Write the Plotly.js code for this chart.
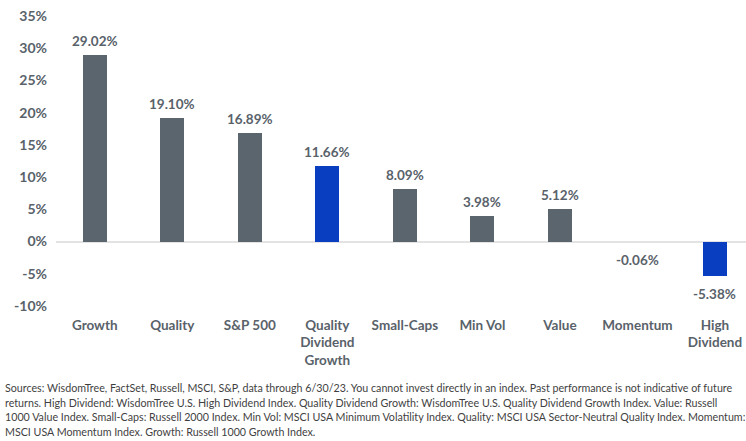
<!DOCTYPE html>
<html>
<head>
<meta charset="utf-8">
<script src="https://cdn.plot.ly/plotly-3.0.1.min.js"></script>
<style>
  html, body { margin: 0; padding: 0; background: #ffffff; }
  #chart { width: 746px; height: 441px; }
</style>
</head>
<body>
<div id="chart"></div>
<script>
// Total return by factor / index, through 6/30/23 (percent)
const categories = ["Growth", "Quality", "S&P 500", "Quality<br>Dividend<br>Growth", "Small-Caps", "Min Vol", "Value", "Momentum", "High<br>Dividend"];
const returns = [29.02, 19.10, 16.89, 11.66, 8.09, 3.98, 5.12, -0.06, -5.38];
const highlighted = [false, false, false, true, false, false, false, false, true];
const yTickValues = [-10, -5, 0, 5, 10, 15, 20, 25, 30, 35];
const yTickLabels = ["-10%", "-5%", "0%", "5%", "10%", "15%", "20%", "25%", "30%", "35%"];
const footnoteLines = [
  "Sources: WisdomTree, FactSet, Russell, MSCI, S&P, data through 6/30/23. You cannot invest directly in an index. Past performance is not indicative of future",
  "returns. High Dividend: WisdomTree U.S. High Dividend Index. Quality Dividend Growth: WisdomTree U.S. Quality Dividend Growth Index. Value: Russell",
  "1000 Value Index. Small-Caps: Russell 2000 Index. Min Vol: MSCI USA Minimum Volatility Index. Quality: MSCI USA Sector-Neutral Quality Index. Momentum:",
  "MSCI USA Momentum Index. Growth: Russell 1000 Growth Index."
];

const GRAY = "#5b656e";
const BLUE = "#0a3ec0";
const TEXT = "#59626a";
const FONT = "Lato, 'Open Sans', sans-serif";

// plot area geometry (pixels)
const PLOT_TOP = 16;
const PLOT_H = 290;
const PLOT_L = 56;
const PLOT_W = 690;

const barTrace = {
  type: "bar",
  x: categories,
  y: returns,
  width: 0.31,
  marker: { color: highlighted.map(h => h ? BLUE : GRAY), line: { width: 0 } },
  hoverinfo: "x+y",
  showlegend: false
};

const valueLabels = categories.map((c, i) => ({
  x: c,
  y: returns[i],
  xref: "x",
  yref: "y",
  text: returns[i].toFixed(2) + "%",
  showarrow: false,
  yanchor: returns[i] >= 0 ? "bottom" : "top",
  yshift: returns[i] >= 0 ? 4 : -8,
  font: { family: FONT, size: 13.5, color: TEXT, weight: 700 }
}));

// footnote lines, one annotation per line for even spacing
const footnotes = footnoteLines.map((line, i) => {
  const py = 388 + i * 14.4;
  return {
    xref: "paper",
    yref: "paper",
    x: (3 - PLOT_L) / PLOT_W,
    y: (PLOT_TOP + PLOT_H - py) / PLOT_H,
    xanchor: "left",
    yanchor: "middle",
    align: "left",
    showarrow: false,
    text: line,
    font: { family: FONT, size: 10.7, color: "#3f3f3f" }
  };
});

const layout = {
  width: 746,
  height: 441,
  margin: { l: PLOT_L, r: 746 - PLOT_L - PLOT_W, t: PLOT_TOP, b: 441 - PLOT_TOP - PLOT_H },
  paper_bgcolor: "#ffffff",
  plot_bgcolor: "#ffffff",
  bargap: 0,
  xaxis: {
    type: "category",
    range: [-0.5, 8.4],
    showgrid: false,
    showline: false,
    zeroline: false,
    ticks: "",
    ticklabelstandoff: 9,
    tickfont: { family: FONT, size: 13.5, color: TEXT, weight: 700 },
    fixedrange: true
  },
  yaxis: {
    range: [-10, 35],
    tickvals: yTickValues,
    ticktext: yTickLabels,
    showgrid: false,
    showline: false,
    zeroline: true,
    zerolinecolor: "#e3e3e3",
    zerolinewidth: 2,
    ticks: "",
    ticklabelstandoff: 8,
    tickfont: { family: FONT, size: 14, color: TEXT, weight: 700 },
    fixedrange: true
  },
  annotations: valueLabels.concat(footnotes)
};

Plotly.newPlot("chart", [barTrace], layout, { displayModeBar: false, staticPlot: true });
</script>
</body>
</html>
